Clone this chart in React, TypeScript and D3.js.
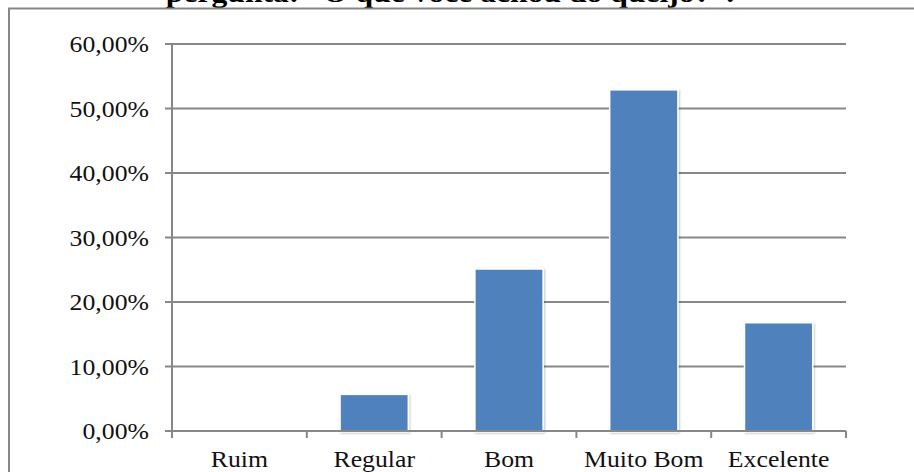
import React from "react";
import * as d3 from "d3";

const categories = ["Ruim", "Regular", "Bom", "Muito Bom", "Excelente"];
const values = [0, 0.0556, 0.25, 0.5278, 0.1667];
const yTicks = [0, 0.1, 0.2, 0.3, 0.4, 0.5, 0.6];
const title = "pergunta: \u201cO que voc\u00ea achou do queijo?\u201d.";

const W = 914;
const H = 472;
const FONT = "'Liberation Serif', 'Times New Roman', serif";
const GRID = "#878787";
const BAR = "#4F81BD";
const SX = 1.12;

export default function App() {
  const x = d3.scaleBand<string>().domain(categories).range([172, 846]).padding(0);
  const y = d3.scaleLinear().domain([0, 0.6]).range([431, 44]);
  const bw = x.bandwidth();
  const barW = bw * 0.495;
  const fmt = (v: number) => (v * 100).toFixed(2).replace(".", ",") + "%";
  const [x0, x1] = x.range();
  const boundaries = categories.map((c) => x(c)!).concat([x1]);

  return (
    <svg
      width={W}
      height={H}
      style={{ position: "absolute", left: 0, top: 0, background: "#fff" }}
      fontFamily={FONT}
    >
      <defs>
        <filter id="sh" x="-20%" y="-20%" width="140%" height="140%">
          <feGaussianBlur in="SourceAlpha" stdDeviation="1.2" />
          <feOffset dx="0.5" dy="0.5" result="b" />
          <feComponentTransfer>
            <feFuncA type="linear" slope="0.25" />
          </feComponentTransfer>
          <feMerge>
            <feMergeNode />
            <feMergeNode in="SourceGraphic" />
          </feMerge>
        </filter>
      </defs>
      <rect x={0} y={0} width={W} height={H} fill="#fff" />
      {/* title (cut off at top, as in the reference) */}
      <text
        transform={`translate(450,2) scale(1.13,1)`}
        textAnchor="middle"
        fontWeight="bold"
        fontSize={28}
        fill="#000"
      >
        {title}
      </text>
      {/* outer frame */}
      <path d={`M9,${H + 5} V8.5 H${W + 5}`} fill="none" stroke={GRID} strokeWidth={2} />
      {/* gridlines and y ticks */}
      {yTicks.map((t) => (
        <g key={t}>
          <line x1={165} x2={x1} y1={y(t)} y2={y(t)} stroke={GRID} strokeWidth={2} />
          <text
            transform={`translate(149,${y(t) + 8}) scale(${SX},1)`}
            textAnchor="end"
            fontSize={23}
            fill="#111"
          >
            {fmt(t)}
          </text>
        </g>
      ))}
      {/* y axis */}
      <line x1={x0} x2={x0} y1={y(0.6)} y2={438} stroke={GRID} strokeWidth={2} />
      {/* x ticks */}
      {boundaries.map((b, i) => (
        <line key={i} x1={b} x2={b} y1={y(0)} y2={438} stroke={GRID} strokeWidth={2} />
      ))}
      {/* bars */}
      {categories.map((c, i) =>
        values[i] > 0 ? (
          <rect
            key={c}
            x={x(c)! + (bw - barW) / 2}
            y={y(values[i])}
            width={barW}
            height={y(0) - y(values[i])}
            fill={BAR}
            stroke="#fff"
            strokeWidth={3}
            paintOrder="stroke"
            filter="url(#sh)"
          />
        ) : null
      )}
      {/* x axis baseline above bars */}
      <line x1={x0 - 7} x2={x1} y1={y(0)} y2={y(0)} stroke={GRID} strokeWidth={2} />
      {/* x labels */}
      {categories.map((c) => (
        <text
          key={c}
          transform={`translate(${x(c)! + bw / 2},467) scale(${SX},1)`}
          textAnchor="middle"
          fontSize={23}
          fill="#111"
        >
          {c}
        </text>
      ))}
    </svg>
  );
}
